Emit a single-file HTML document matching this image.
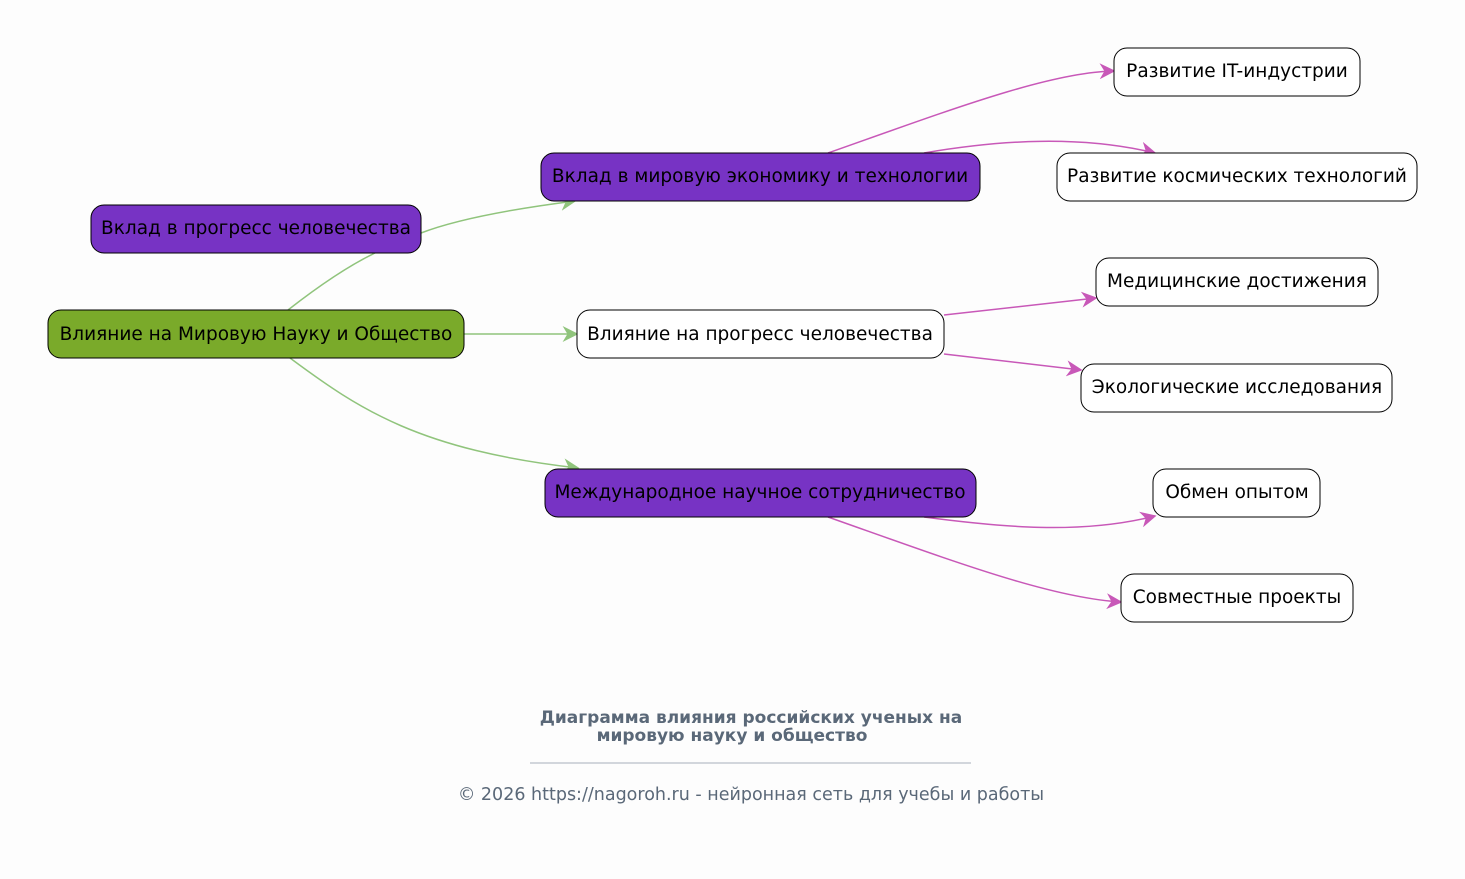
<!DOCTYPE html>
<html><head><meta charset="utf-8"><style>
html,body{margin:0;padding:0;background:#fdfdfd;}
svg{display:block;font-family:"DejaVu Sans","Liberation Sans",sans-serif;}
</style></head><body>
<svg width="1465" height="879" viewBox="0 0 1465 879" xmlns="http://www.w3.org/2000/svg">
<defs>
<marker id="ag" viewBox="0 0 10 10" refX="9" refY="5" markerWidth="16" markerHeight="16" markerUnits="userSpaceOnUse" orient="auto"><path d="M0,0 L10,5 L0,10 L3,5 z" fill="#90c47c"/></marker>
<marker id="am" viewBox="0 0 10 10" refX="9" refY="5" markerWidth="16" markerHeight="16" markerUnits="userSpaceOnUse" orient="auto"><path d="M0,0 L10,5 L0,10 L3,5 z" fill="#c858b8"/></marker>
</defs>
<rect width="1465" height="879" fill="#fdfdfd"/>
<g fill="none" stroke="#90c47c" stroke-width="1.5">
<path d="M288,310 C320,285 350,265 375,253"/>
<path d="M421,233 C460,218 520,208 575,201" marker-end="url(#ag)"/>
<path d="M464,334 L577,334" marker-end="url(#ag)"/>
<path d="M290,358 C360,410 420,450 578,468" marker-end="url(#ag)"/>
</g>
<g fill="none" stroke="#c858b8" stroke-width="1.5">
<path d="M828,153 C950,110 1050,72 1114,71" marker-end="url(#am)"/>
<path d="M924,153 C1000,140 1080,135 1155,153" marker-end="url(#am)"/>
<path d="M944,315 L1096,298" marker-end="url(#am)"/>
<path d="M944,354 L1081,370" marker-end="url(#am)"/>
<path d="M924,517 C1000,527 1080,535 1155,516" marker-end="url(#am)"/>
<path d="M828,517 C950,560 1050,598 1121,602" marker-end="url(#am)"/>
</g>
<g stroke="#000" stroke-width="1">
<rect x="48" y="310" width="416" height="48" rx="13" fill="#7aaa2a"/>
<rect x="91" y="205" width="330" height="48" rx="13" fill="#7733c4"/>
<rect x="541" y="153" width="439" height="48" rx="13" fill="#7733c4"/>
<rect x="577" y="310" width="367" height="48" rx="13" fill="#fff"/>
<rect x="545" y="469" width="431" height="48" rx="13" fill="#7733c4"/>
<rect x="1114" y="48" width="246" height="48" rx="13" fill="#fff"/>
<rect x="1057" y="153" width="360" height="48" rx="13" fill="#fff"/>
<rect x="1096" y="258" width="282" height="48" rx="13" fill="#fff"/>
<rect x="1081" y="364" width="311" height="48" rx="13" fill="#fff"/>
<rect x="1153" y="469" width="167" height="48" rx="13" fill="#fff"/>
<rect x="1121" y="574" width="232" height="48" rx="13" fill="#fff"/>
</g>
<g font-size="18.5" fill="#000" text-anchor="middle">
<text x="256" y="340">Влияние на Мировую Науку и Общество</text>
<text x="256" y="234">Вклад в прогресс человечества</text>
<text x="760" y="182">Вклад в мировую экономику и технологии</text>
<text x="760" y="340">Влияние на прогресс человечества</text>
<text x="760" y="498">Международное научное сотрудничество</text>
<text x="1237" y="77">Развитие IT-индустрии</text>
<text x="1237" y="182">Развитие космических технологий</text>
<text x="1237" y="287">Медицинские достижения</text>
<text x="1237" y="393">Экологические исследования</text>
<text x="1237" y="498">Обмен опытом</text>
<text x="1237" y="603">Совместные проекты</text>
</g>
<g fill="#5a6878" text-anchor="middle">
<text x="751" y="723" font-size="17" font-weight="bold">Диаграмма влияния российских ученых на</text>
<text x="732" y="741" font-size="17" font-weight="bold">мировую науку и общество</text>
<text x="751" y="800" font-size="17.5">© 2026 https://nagoroh.ru - нейронная сеть для учебы и работы</text>
</g>
<line x1="530" y1="763" x2="971" y2="763" stroke="#8a96a4" stroke-width="0.8"/>
</svg>
</body></html>
